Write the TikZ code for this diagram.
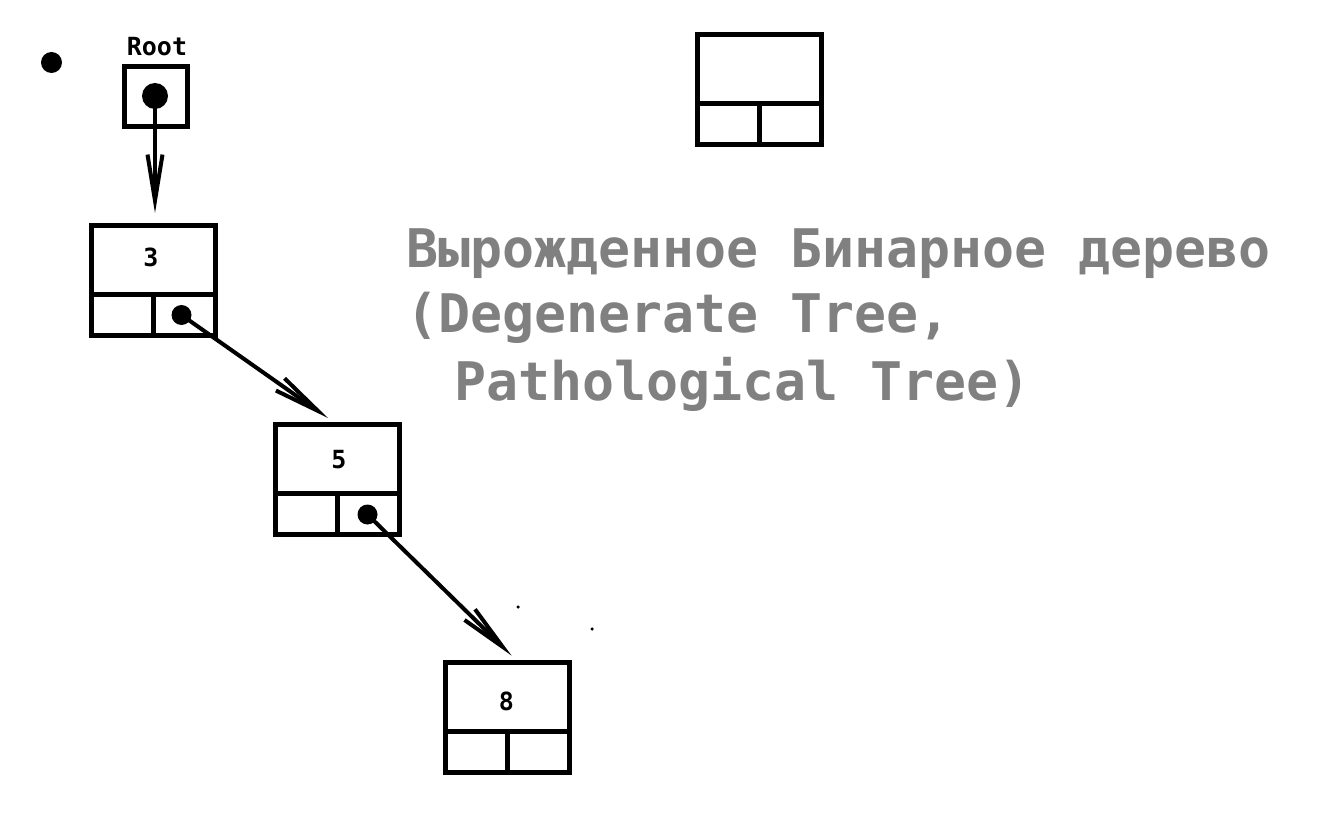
\documentclass[tikz,border=0pt]{standalone}
\usepackage{fontspec}
\setmonofont{DejaVu Sans Mono}
\usetikzlibrary{arrows.meta,calc}
\definecolor{titlegray}{RGB}{128,128,128}
\begin{document}
\begin{tikzpicture}[x=1pt,y=-1pt,
  cell/.style={draw, line width=5pt, rectangle, minimum width=124pt, minimum height=110pt, inner sep=0pt, outer sep=0pt},
  rootcell/.style={draw, line width=5pt, rectangle, minimum width=63pt, minimum height=60pt, inner sep=0pt, outer sep=0pt},
  edge/.style={line width=5pt},
  ptr/.style={line width=4pt, -{Straight Barb[length=46pt,width=15pt]}},
  dot/.style={circle, fill=black, inner sep=0pt, minimum size=#1},
  val/.style={font=\ttfamily\bfseries\fontsize{25}{29}\selectfont, inner sep=0pt},
  title/.style={font=\ttfamily\bfseries\fontsize{53.2}{60}\selectfont, text=titlegray, inner sep=0pt, anchor=base west}
]
\useasboundingbox (0,0) rectangle (1342,834);
\fill[white] (0,0) rectangle (1342,834);

% loose marks
\node[dot=21pt] (spot) at (51.5,62.5) {};
\node[dot=3.5pt] (speckA) at (518,607) {};
\node[dot=3.5pt] (speckB) at (592,629) {};

% root pointer
\node[val] (rootlabel) at (157,46.5) {Root};
\node[rootcell] (root) at (156,96.5) {};
\node[dot=26pt] (droot) at (155,96) {};

% list cells: value on top, two pointer slots below
\foreach \n/\x/\y in {n3/153.5/280.5, n5/337/479.5, n8/507/717, blank/759/89.5} {
  \node[cell] (\n) at (\x,\y) {};
  \draw[edge] ($(\n.west)+(0,14)$) -- ($(\n.east)+(0,14)$);
  \draw[edge] ($(\n.center)+(0,14)$) -- (\n.south);
}

\node[val] (v3) at (151,257.5) {3};
\node[val] (v5) at (339,460) {5};
\node[val] (v8) at (506.5,701.5) {8};

\node[dot=20pt] (d3) at (181.5,315) {};
\node[dot=20pt] (d5) at (367.5,514.5) {};

\coordinate (t3) at (155,213);
\coordinate (t5) at (328,418);
\coordinate (t8) at (511.5,655.5);

\draw[ptr] (droot.center) -- (t3);
\draw[ptr] (d3.center) -- (t5);
\draw[ptr] (d5.center) -- (t8);

% caption
\node[title] (cap1) at (406,268) {Вырожденное Бинарное дерево};
\node[title] (cap2) at (406,333) {(Degenerate Tree,};
\node[title] (cap3) at (454,400) {Pathological Tree)};
\end{tikzpicture}
\end{document}
